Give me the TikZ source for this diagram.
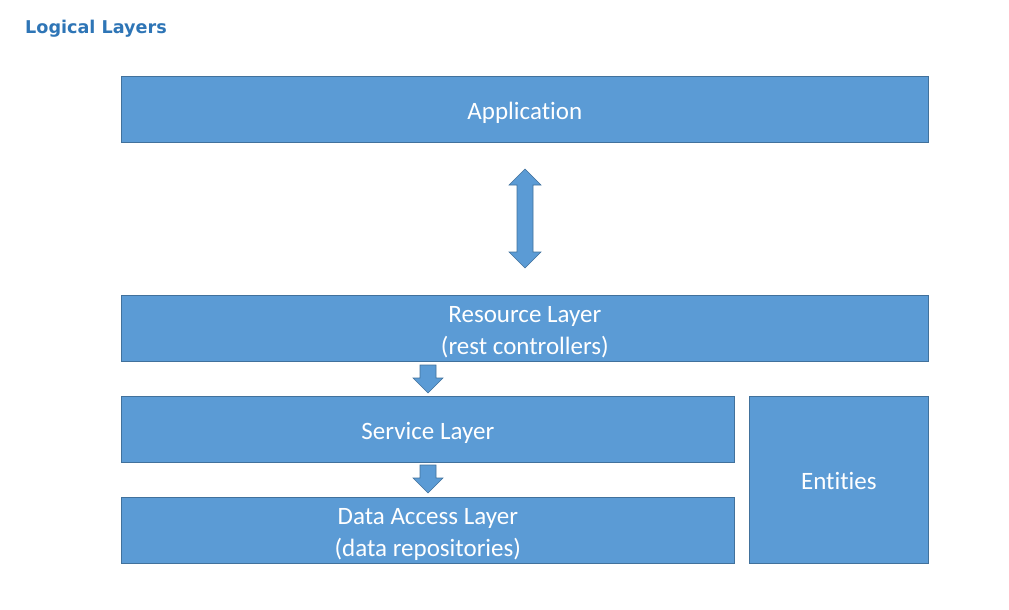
\documentclass[tikz,border=0pt]{standalone}
\usepackage{fontspec}
\setmainfont{Carlito}[Ligatures={NoCommon}]
\newfontfamily\titlefont{DejaVu Sans}
\definecolor{boxblue}{HTML}{5B9BD5}
\definecolor{boxedge}{HTML}{41719C}
\definecolor{titleblue}{HTML}{2E75B6}
\tikzset{
  layer/.style={draw=boxedge, fill=boxblue, line width=0.7pt, text=white,
    font=\fontsize{25}{32}\selectfont, align=center, anchor=north west,
    inner sep=0pt, text height=20pt, text depth=0pt},
  twolines/.style={text height=52pt},
  blockarrow/.style={draw=boxedge, fill=boxblue, line width=0.6pt, line join=miter},
}
\begin{document}
\begin{tikzpicture}[x=1pt,y=-1pt]
\useasboundingbox (0,0) rectangle (1009,610);

% title
\node[anchor=base west, inner sep=0pt, text=titleblue,
  font=\titlefont\bfseries\fontsize{17.6}{20}\selectfont] (title) at (25,33.3) {Logical Layers};

% layers
\node[layer, minimum width=807, minimum height=66] (app) at (121,76) {Application};
\node[layer, twolines, minimum width=807, minimum height=66] (res) at (121,295) {Resource Layer\\(rest controllers)};
\node[layer, minimum width=613, minimum height=66] (svc) at (121,396) {Service Layer};
\node[layer, twolines, minimum width=613, minimum height=66] (dal) at (121,497) {Data Access Layer\\(data repositories)};
\node[layer, minimum width=179, minimum height=167] (ent) at (749,396) {Entities};

% two-way block arrow between application and resource layer
\draw[blockarrow] (525,169) -- (541,185) -- (533,185) -- (533,252) -- (541,252)
  -- (525,268) -- (509,252) -- (517,252) -- (517,185) -- (509,185) -- cycle;

% downward block arrows
\foreach \t in {365,465}{
  \draw[blockarrow] (420,\t) -- (436,\t) -- (436,\t+13) -- (443,\t+13)
    -- (428,\t+28) -- (413,\t+13) -- (420,\t+13) -- cycle;
}
\end{tikzpicture}
\end{document}
